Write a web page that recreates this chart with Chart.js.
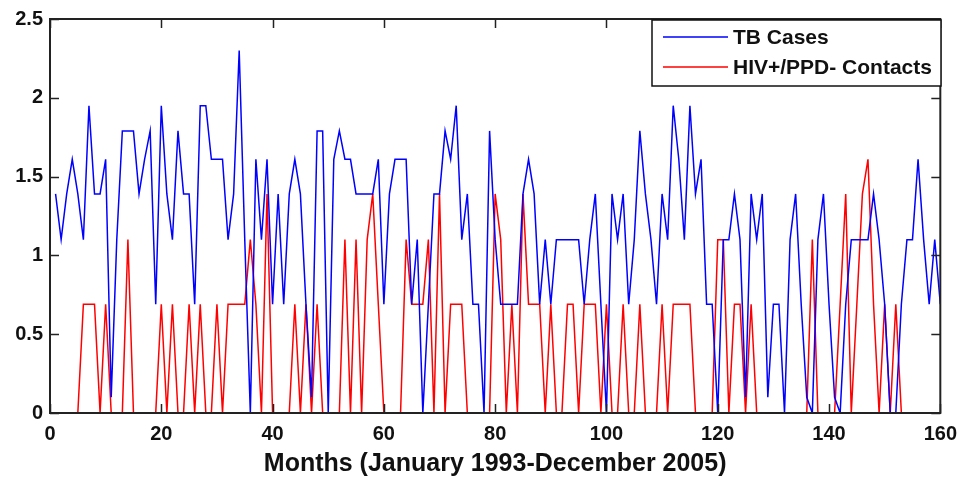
<!DOCTYPE html>
<html>
<head>
  <title>TB Cases vs HIV+/PPD- Contacts</title>
  <style>
    body { margin: 0; background: #fff; }
    #wrap { width: 966px; height: 484px; }
  </style>
</head>
<body>
  <div id="wrap"><canvas id="myChart" width="966" height="484"></canvas></div>
  <script src="https://cdn.jsdelivr.net/npm/chart.js@4.4.1/dist/chart.umd.min.js"></script>
  <script>
    // log monthly counts (month 1 = Jan 1993)
    const tbCases = [
      1.39, 1.1, 1.39, 1.61, 1.39, 1.1, 1.95, 1.39, 1.39, 1.61,
      0.1, 1.1, 1.79, 1.79, 1.79, 1.39, 1.61, 1.79, 0.69, 1.95,
      1.39, 1.1, 1.79, 1.39, 1.39, 0.69, 1.95, 1.95, 1.61, 1.61,
      1.61, 1.1, 1.39, 2.3, 1.1, 0, 1.61, 1.1, 1.61, 0.69,
      1.39, 0.69, 1.39, 1.61, 1.39, 0.69, 0.1, 1.79, 1.79, 0,
      1.61, 1.79, 1.61, 1.61, 1.39, 1.39, 1.39, 1.39, 1.61, 0.69,
      1.39, 1.61, 1.61, 1.61, 0.69, 1.1, 0, 0.69, 1.39, 1.39,
      1.79, 1.61, 1.95, 1.1, 1.39, 0.69, 0.69, 0, 1.79, 1.1,
      0.69, 0.69, 0.69, 0.69, 1.39, 1.61, 1.39, 0.69, 1.1, 0.69,
      1.1, 1.1, 1.1, 1.1, 1.1, 0.69, 1.1, 1.39, 0.69, 0,
      1.39, 1.1, 1.39, 0.69, 1.1, 1.79, 1.39, 1.1, 0.69, 1.39,
      1.1, 1.95, 1.61, 1.1, 1.95, 1.39, 1.61, 0.69, 0.69, 0,
      1.1, 1.1, 1.39, 1.1, 0.1, 1.39, 1.1, 1.39, 0.1, 0.69,
      0.69, 0, 1.1, 1.39, 0.69, 0.1, 0, 1.1, 1.39, 0.69,
      0.1, 0, 0.69, 1.1, 1.1, 1.1, 1.1, 1.39, 1.1, 0.69,
      0, 0, 0.69, 1.1, 1.1, 1.61, 1.1, 0.69, 1.1, 0.69
    ];
    const hivContacts = [
      0, 0, 0, 0, 0, 0.69, 0.69, 0.69, 0, 0.69,
      0, 0, 0, 1.1, 0, 0, 0, 0, 0, 0.69,
      0, 0.69, 0, 0, 0.69, 0, 0.69, 0, 0, 0.69,
      0, 0.69, 0.69, 0.69, 0.69, 1.1, 0.69, 0, 1.39, 0,
      0, 0, 0, 0.69, 0, 0.69, 0, 0.69, 0, 0,
      0, 0, 1.1, 0, 1.1, 0, 1.1, 1.39, 0.69, 0,
      0, 0, 0, 1.1, 0.69, 0.69, 0.69, 1.1, 0, 1.39,
      0, 0.69, 0.69, 0.69, 0, 0, 0, 0, 0, 1.39,
      1.1, 0, 0.69, 0, 1.39, 0.69, 0.69, 0.69, 0, 0.69,
      0, 0, 0.69, 0.69, 0, 0.69, 0.69, 0.69, 0, 0.69,
      0, 0, 0.69, 0, 0, 0.69, 0, 0, 0, 0.69,
      0, 0.69, 0.69, 0.69, 0.69, 0, 0, 0, 0, 1.1,
      1.1, 0, 0.69, 0.69, 0, 0.69, 0, 0, 0, 0,
      0, 0, 0, 0, 0, 0, 1.1, 0, 0, 0,
      0, 0.69, 1.39, 0, 0.69, 1.39, 1.61, 0.69, 0, 0.69,
      0, 0.69, 0, 0, 0, 0, 0, 0, 0, 0
    ];
    const months = tbCases.map((v, i) => i + 1);
    const xTicks = [0, 20, 40, 60, 80, 100, 120, 140, 160];
    const yTicks = [0, 0.5, 1, 1.5, 2, 2.5];
    const seriesNames = ['TB Cases', 'HIV+/PPD- Contacts'];
    const seriesColors = ['#0000ff', '#ff0000'];

    const FONT = 'Liberation Sans, Arial, sans-serif';

    // matlab style box with inward ticks + legend inside the axes
    const matlabBox = {
      id: 'matlabBox',
      afterDatasetsDraw(chart) {
        const ctx = chart.ctx;
        const a = chart.chartArea;
        const xs = chart.scales.x, ys = chart.scales.y;
        const tl = 9;
        ctx.save();
        ctx.strokeStyle = '#222';
        ctx.lineWidth = 1.5;
        ctx.beginPath();
        xTicks.forEach(v => {
          const px = Math.round(xs.getPixelForValue(v)) + 0.5;
          ctx.moveTo(px, a.bottom); ctx.lineTo(px, a.bottom - tl);
          ctx.moveTo(px, a.top); ctx.lineTo(px, a.top + tl);
        });
        yTicks.forEach(v => {
          const py = Math.round(ys.getPixelForValue(v)) + 0.5;
          ctx.moveTo(a.left, py); ctx.lineTo(a.left + tl, py);
          ctx.moveTo(a.right, py); ctx.lineTo(a.right - tl, py);
        });
        ctx.stroke();
        ctx.lineWidth = 2;
        ctx.strokeRect(a.left, a.top, a.right - a.left, a.bottom - a.top);

        // legend
        const bx = 652, by = 20, bw = 289, bh = 66;
        ctx.fillStyle = '#fff';
        ctx.fillRect(bx, by, bw, bh);
        ctx.lineWidth = 1.5;
        ctx.strokeStyle = '#111';
        ctx.strokeRect(bx, by, bw, bh);
        ctx.font = 'bold 21px ' + FONT;
        ctx.textBaseline = 'middle';
        chart.data.datasets.forEach((ds, i) => {
          const y = by + 17 + i * 30;
          ctx.strokeStyle = ds.borderColor;
          ctx.lineWidth = 1.4;
          ctx.beginPath();
          ctx.moveTo(bx + 11, y); ctx.lineTo(bx + 76, y);
          ctx.stroke();
          ctx.fillStyle = '#111';
          ctx.fillText(ds.label, bx + 81, y + 1);
        });
        ctx.restore();
      }
    };

    const ctx = document.getElementById('myChart').getContext('2d');
    new Chart(ctx, {
      type: 'line',
      data: {
        labels: months,
        datasets: [
          {
            label: seriesNames[0],
            data: months.map((m, i) => ({ x: m, y: tbCases[i] })),
            borderColor: seriesColors[0],
            borderWidth: 1.5,
            pointRadius: 0,
            tension: 0
          },
          {
            label: seriesNames[1],
            data: months.map((m, i) => ({ x: m, y: hivContacts[i] })),
            borderColor: seriesColors[1],
            borderWidth: 1.5,
            pointRadius: 0,
            tension: 0
          }
        ]
      },
      options: {
        responsive: false,
        animation: false,
        layout: { padding: { left: 0, right: 23, top: 18, bottom: 0 } },
        plugins: {
          legend: { display: false },
          tooltip: { enabled: false }
        },
        scales: {
          x: {
            type: 'linear',
            min: 0,
            max: 160,
            afterBuildTicks: s => { s.ticks = xTicks.map(v => ({ value: v })); },
            afterFit: s => { s.height = 71; },
            grid: { display: false, drawTicks: false },
            border: { display: false },
            ticks: { color: '#111', padding: 9, font: { family: FONT, size: 20, weight: 'bold' } },
            title: {
              display: true,
              text: 'Months (January 1993-December 2005)',
              color: '#111',
              padding: { top: 0, bottom: 5 },
              font: { family: FONT, size: 25, weight: 'bold' }
            }
          },
          y: {
            min: 0,
            max: 2.5,
            afterBuildTicks: s => { s.ticks = yTicks.map(v => ({ value: v })); },
            afterFit: s => { s.width = 50; },
            grid: { display: false, drawTicks: false },
            border: { display: false },
            ticks: {
              color: '#111',
              padding: 7,
              font: { family: FONT, size: 20, weight: 'bold' },
              callback: v => String(v)
            }
          }
        }
      },
      plugins: [matlabBox]
    });
  </script>
</body>
</html>
